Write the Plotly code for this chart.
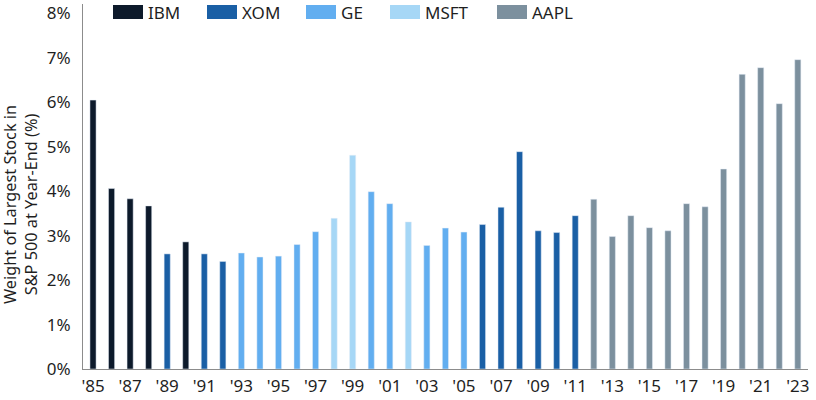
import plotly.graph_objects as go

years = list(range(1985, 2024))
weights = [6.05, 4.06, 3.83, 3.67, 2.59, 2.86, 2.59, 2.42, 2.61, 2.52,
           2.54, 2.80, 3.09, 3.39, 4.81, 3.99, 3.72, 3.31, 2.78, 3.17,
           3.08, 3.25, 3.64, 4.89, 3.11, 3.07, 3.45, 3.82, 2.98, 3.45,
           3.18, 3.11, 3.72, 3.65, 4.50, 6.63, 6.78, 5.97, 6.96]
owners = ["IBM", "IBM", "IBM", "IBM", "XOM", "IBM", "XOM", "XOM", "GE", "GE",
          "GE", "GE", "GE", "MSFT", "MSFT", "GE", "GE", "MSFT", "GE", "GE",
          "GE", "XOM", "XOM", "XOM", "XOM", "XOM", "XOM", "AAPL", "AAPL", "AAPL",
          "AAPL", "AAPL", "AAPL", "AAPL", "AAPL", "AAPL", "AAPL", "AAPL", "AAPL"]
companies = ["IBM", "XOM", "GE", "MSFT", "AAPL"]
colors = {"IBM": "#0d1a2b", "XOM": "#1a5fa5", "GE": "#62aef0",
          "MSFT": "#a6d7f6", "AAPL": "#7c909e"}
tick_years = list(range(1985, 2024, 2))
tick_labels = ["'" + str(y)[2:] for y in tick_years]
y_ticks = [0, 1, 2, 3, 4, 5, 6, 7, 8]
y_tick_labels = [f"{v}%" for v in y_ticks]

FONT = "Noto Sans"
TXT = "#1f1f1f"

fig = go.Figure()
for c in companies:
    xs = [y for y, o in zip(years, owners) if o == c]
    ys = [w for w, o in zip(weights, owners) if o == c]
    fig.add_trace(go.Bar(x=xs, y=ys, name=c, marker_color=colors[c],
                         width=0.33, showlegend=False, hoverinfo="skip"))

# custom legend (wide swatches)
W, L = 816, 83
PW = 725
T, B = 4, 369
PH = B - T
leg_x = {"IBM": 113, "XOM": 207, "GE": 306, "MSFT": 390, "AAPL": 497}
shapes = []
annotations = []
for c in companies:
    x0 = leg_x[c]
    shapes.append(dict(type="rect", xref="paper", yref="paper",
                       x0=(x0 - L) / PW, x1=(x0 + 30 - L) / PW,
                       y0=(B - 19) / PH, y1=(B - 5) / PH,
                       fillcolor=colors[c], line=dict(width=0)))
    annotations.append(dict(xref="paper", yref="paper", x=(x0 + 33 - L) / PW,
                            y=(B - 12) / PH, text=c, showarrow=False,
                            xanchor="left", yanchor="middle",
                            font=dict(family=FONT, size=17, color=TXT)))

annotations.append(dict(xref="paper", yref="paper", x=(20 - L) / PW, y=(B - 205) / PH,
                        text="Weight of Largest Stock in<br>S&P 500 at Year-End (%)",
                        textangle=-90, showarrow=False, xanchor="center",
                        yanchor="middle",
                        font=dict(family=FONT, size=16.3, color=TXT)))

fig.update_layout(
    width=816, height=400,
    margin=dict(l=L, r=W - L - PW, t=T, b=400 - B, autoexpand=False),
    plot_bgcolor="white", paper_bgcolor="white",
    barmode="relative",
    shapes=shapes, annotations=annotations,
    font=dict(family=FONT, size=17, color=TXT),
)
fig.update_xaxes(range=[1984.46, 2023.55], tickvals=tick_years, ticktext=tick_labels,
                 showgrid=False, showline=True, linecolor="#8c8c8c", linewidth=1,
                 ticks="", automargin=False, ticklabelstandoff=2,
                 tickfont=dict(family=FONT, size=17, color=TXT))
fig.update_yaxes(range=[0, (PH - 2) / 44.2], tickvals=y_ticks, ticktext=y_tick_labels,
                 showgrid=False, showline=True, linecolor="#8c8c8c", linewidth=1,
                 ticks="", zeroline=False, ticklabelstandoff=8, automargin=False,
                 tickfont=dict(family=FONT, size=17, color=TXT))

fig.write_html("out.html", config={"displayModeBar": False},
               post_script="document.body.style.margin='0';document.body.style.overflow='hidden';")
